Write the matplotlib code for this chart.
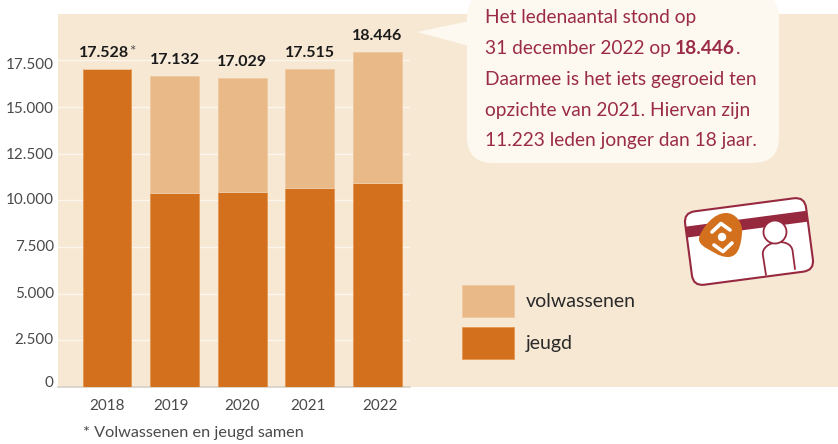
"""
Ledenaantal 2018-2022: stacked bars with a speech bubble and a member card.
"""
import matplotlib
matplotlib.use('Agg')
import matplotlib.pyplot as plt
from matplotlib.patches import Rectangle, FancyBboxPatch, Polygon, Circle, PathPatch
from matplotlib.path import Path
from matplotlib.transforms import Affine2D

plt.rcParams['font.family'] = ['Lato', 'Noto Sans', 'DejaVu Sans']

# Data, bar heights as they are drawn against the axis
years = ['2018', '2019', '2020', '2021', '2022']
jeugd = [17040, 10370, 10450, 10680, 10910]  # 2018 is adults and youth together
volwassenen = [0, 6290, 6110, 6340, 7015]
total_labels = ['17.528', '17.132', '17.029', '17.515', '18.446']
y_ticks = [0, 2500, 5000, 7500, 10000, 12500, 15000, 17500]
y_tick_labels = ['0', '2.500', '5.000', '7.500', '10.000', '12.500', '15.000', '17.500']

# Colours
ORANGE = '#D2701D'
LIGHT_ORANGE = '#E9B988'
PANEL = '#F7E8D4'
BUBBLE = '#FDF8F0'
MAROON = '#9B2C47'
GREY_TEXT = '#4A4A4A'

W, H = 838, 444

fig = plt.figure(figsize=(W / 100, H / 100), dpi=100, facecolor='white')

# Beige panel behind everything
fig.add_artist(Rectangle((58 / W, 1 - 387 / H), (W - 58) / W, 373 / H,
                         transform=fig.transFigure, facecolor=PANEL, edgecolor='none', zorder=0))

# Chart axes, placed in pixels
ax = fig.add_axes([58 / W, 1 - 387 / H, 352 / W, 373 / H], zorder=1)
ax.patch.set_visible(False)
x = list(range(len(years)))
ax.set_xlim(-0.725, 4.482)
ax.set_ylim(0, 19982)

jeugd_bars = ax.bar(x, jeugd, width=0.72, color=ORANGE, edgecolor='#E49A55', linewidth=0.7,
                    zorder=3, label='jeugd')
volw_bars = ax.bar(x, volwassenen, width=0.72, bottom=jeugd, color=LIGHT_ORANGE, edgecolor='#EFC9A2',
                   linewidth=0.7, zorder=3, label='volwassenen')

ax.set_yticks(y_ticks)
ax.set_yticklabels(y_tick_labels, fontsize=11, color=GREY_TEXT)
ax.set_xticks(x)
ax.set_xticklabels(years, fontsize=11, color=GREY_TEXT)
ax.tick_params(axis='both', length=0)
ax.tick_params(axis='y', pad=3)
ax.tick_params(axis='x', pad=8.5)
ax.grid(True, axis='y', color='#FDF6EC', linewidth=1, zorder=1)
for side in ['top', 'right', 'left']:
    ax.spines[side].set_visible(False)
ax.spines['bottom'].set_color('#D6D0C6')
ax.spines['bottom'].set_linewidth(1.2)

# The labels do not sit exactly on their ticks in the original
y_nudge = [6, 1.5, 1.5, 1.5, 1.5, 0, -1, -3.5]
for lab, dy in zip(ax.get_yticklabels(), y_nudge):
    lab.set_transform(lab.get_transform() + Affine2D().translate(0, dy))
x_nudge = [0, -3.5, -0.5, -1.5, 2.5]
for lab, dx in zip(ax.get_xticklabels(), x_nudge):
    lab.set_transform(lab.get_transform() + Affine2D().translate(dx, 0))

# Totals above the bars
for i in x:
    top = jeugd[i] + volwassenen[i]
    dx = -2.5 if i == 0 else 0
    ax.annotate(total_labels[i], (i, top), xytext=(dx, 16 * 0.72), textcoords='offset points',
                ha='center', va='center', fontsize=11.5, fontweight='bold', color='#1A1A1A')
ax.annotate('*', (0, jeugd[0]), xytext=(18.5, 12), textcoords='offset points',
            ha='center', va='center', fontsize=11, color='#555555')

# Legend, volwassenen on top
FS = 14
FS_PX = FS * 100 / 72
ax.legend(handles=[volw_bars, jeugd_bars], labels=['volwassenen', 'jeugd'], frameon=False,
          loc='upper left', bbox_to_anchor=(462 / W, 1 - 285 / H), bbox_transform=fig.transFigure,
          borderaxespad=0, borderpad=0, fontsize=FS, labelcolor='#2A2A2A',
          handlelength=52 / FS_PX, handleheight=(32 / FS_PX - 0.245) / 0.65,
          handletextpad=12 / FS_PX, labelspacing=10 / FS_PX)

# Overlay in pixel coordinates for the bubble, the card and free text
ov = fig.add_axes([0, 0, 1, 1], zorder=2)
ov.set_xlim(0, W)
ov.set_ylim(H, 0)
ov.axis('off')

ov.text(83, 433, '* Volwassenen en jeugd samen', fontsize=11.7, color=GREY_TEXT, ha='left', va='center')

# Speech bubble
ov.add_patch(FancyBboxPatch((467 + 26, -8 + 26), 312 - 52, 171 - 52,
                            boxstyle='round,pad=26,rounding_size=26',
                            facecolor=BUBBLE, edgecolor='none', clip_on=False))
ov.add_patch(Polygon([(417, 32), (469, 21), (469, 46)], closed=True, facecolor=BUBBLE, edgecolor='none'))

TS = 13.8
lines = [
    (17.5, 'Het ledenaantal stond op'),
    (48.5, '31 december 2022 op'),
    (79.5, 'Daarmee is het iets gegroeid ten'),
    (110, 'opzichte van 2021. Hiervan zijn'),
    (140.5, '11.223 leden jonger dan 18 jaar.'),
]
for ly, txt in lines:
    ov.text(485, ly, txt, fontsize=TS, color=MAROON, ha='left', va='center')
ov.text(675, 48.5, '18.446', fontsize=TS, fontweight='bold', color=MAROON, ha='left', va='center')
ov.text(735.5, 48.5, '.', fontsize=TS, color=MAROON, ha='left', va='center')

# Member card, drawn level and then turned about its centre
card_rot = Affine2D().rotate_deg(-7.5).translate(749, 241.5) + ov.transData

card = FancyBboxPatch((-50, -26), 100, 52, boxstyle='round,pad=11,rounding_size=11',
                      facecolor='white', edgecolor='none', transform=card_rot, zorder=3)
ov.add_patch(card)
stripe = Rectangle((-61, -23), 122, 11, facecolor='#97293F', edgecolor='none', transform=card_rot, zorder=3.1)
ov.add_patch(stripe)
stripe.set_clip_path(card)

# Person on the card
body = Path([(12.5, 36), (12, 15), (12, 8), (20, 4.3), (27, 4.3), (35, 4.3), (42, 8), (42, 15), (42, 34)],
            [Path.MOVETO, Path.LINETO, Path.CURVE4, Path.CURVE4, Path.CURVE4,
             Path.CURVE4, Path.CURVE4, Path.CURVE4, Path.LINETO])
ov.add_patch(PathPatch(body, facecolor='white', edgecolor='#97293F', linewidth=1.3,
                       transform=card_rot, zorder=3.2))
ov.add_patch(Circle((27, -6), 11.5, facecolor='white', edgecolor='#97293F', linewidth=1.3,
                    transform=card_rot, zorder=3.3))

outline = FancyBboxPatch((-50, -26), 100, 52, boxstyle='round,pad=11,rounding_size=11',
                         facecolor='none', edgecolor='#97293F', linewidth=1.5, transform=card_rot, zorder=3.4)
ov.add_patch(outline)

# Orange logo blob with white chevrons and a dot
blob = Path([(726, 213), (736, 213), (743, 223), (742, 233), (741, 246), (738, 257), (728, 257),
             (719, 257), (712, 251), (706, 248), (701, 245), (697, 241), (700, 235),
             (704, 226), (714, 213), (726, 213)],
            [Path.MOVETO] + [Path.CURVE4] * 15)
ov.add_patch(PathPatch(blob, facecolor=ORANGE, edgecolor='none', zorder=3.5))
logo = dict(color='white', linewidth=2.6, solid_capstyle='round', zorder=3.6)
ov.plot([712, 721, 730], [232, 223.5, 230], **logo)
ov.plot([714, 723, 732], [245, 251.5, 243], **logo)
ov.add_patch(Circle((722, 237), 4.2, facecolor='white', edgecolor='none', zorder=3.6))

fig.savefig('out.png', dpi=100)
plt.close(fig)
